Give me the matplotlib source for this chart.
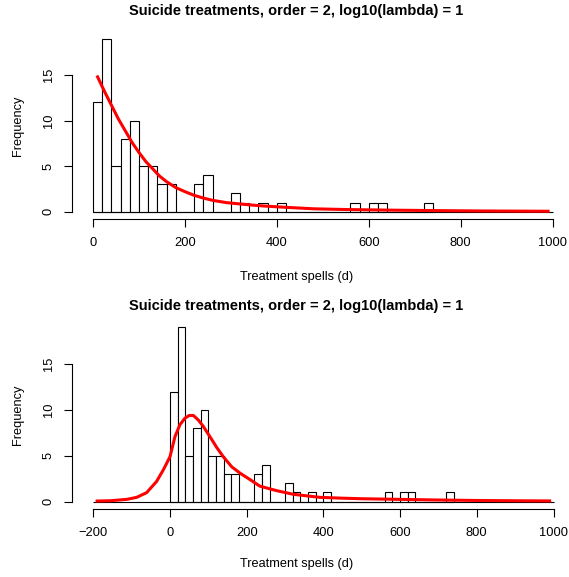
import numpy as np
import matplotlib
matplotlib.use("Agg")
import matplotlib.pyplot as plt

plt.rcParams['font.family'] = ['Liberation Sans', 'DejaVu Sans']

# histogram counts, bins of 20 days starting at 0
bin_width = 20
counts = [12, 19, 5, 8, 10, 5, 5, 3, 3, 0, 0, 3, 4, 0, 0, 2, 1, 0, 1, 0, 1,
          0, 0, 0, 0, 0, 0, 0, 1, 0, 1, 1, 0, 0, 0, 0, 1]
bin_left = np.arange(len(counts)) * bin_width

# smoothed fit, first panel
fit1_x = [10, 25, 40, 55, 70, 85, 100, 115, 130, 145, 160, 180, 200, 220, 240,
          260, 290, 330, 370, 420, 480, 550, 650, 750, 850, 990]
fit1_y = [14.8, 13.2, 11.7, 10.2, 8.9, 7.6, 6.5, 5.5, 4.7, 3.9, 3.3, 2.65, 2.2,
          1.8, 1.5, 1.25, 1.0, 0.8, 0.63, 0.48, 0.32, 0.24, 0.17, 0.12, 0.08, 0.05]

# smoothed fit, second panel
fit2_x = [-190, -156, -113, -87, -61, -35, -17, 0, 13, 26, 39, 50, 61, 74, 87,
          104, 122, 139, 161, 183, 209, 234, 278, 322, 391, 450, 500, 600, 700,
          800, 900, 990]
fit2_y = [0.07, 0.1, 0.25, 0.47, 0.98, 2.2, 3.5, 4.9, 7.1, 8.4, 9.1, 9.4, 9.4,
          8.9, 8.2, 7.1, 5.9, 4.9, 3.8, 3.1, 2.4, 1.7, 1.2, 0.8, 0.47, 0.38, 0.32,
          0.25, 0.18, 0.13, 0.1, 0.08]

title = "Suicide treatments, order = 2, log10(lambda) = 1"
xlab = "Treatment spells (d)"
ylab = "Frequency"

W, H = 569, 577
fig = plt.figure(figsize=(W / 100, H / 100), dpi=100)


def px(x, y):
    return x / W, 1 - y / H


def panel(top, bottom, xlim, xticks, fx, fy, title_y, xlab_y):
    ax = fig.add_axes([72 / W, 1 - bottom / H, (W - 72) / W, (bottom - top) / H])
    ax.bar(bin_left, counts, width=bin_width, align='edge', facecolor='white',
           edgecolor='black', linewidth=0.8, zorder=2)
    ax.hlines(0, xticks[0], xticks[-1], color='black', linewidth=0.8, zorder=2)
    ax.plot(fx, fy, color='red', linewidth=2.2, zorder=3)
    ax.set_xlim(*xlim)
    ax.set_ylim(-0.8, 19.76)
    for s in ['top', 'right']:
        ax.spines[s].set_visible(False)
    ax.spines['left'].set_bounds(0, 15)
    ax.spines['bottom'].set_bounds(xticks[0], xticks[-1])
    for s in ['left', 'bottom']:
        ax.spines[s].set_linewidth(0.8)
    ax.set_xticks(xticks)
    ax.set_yticks([0, 5, 10, 15])
    ax.tick_params(direction='out', length=5.5, width=0.8, labelsize=9.3)
    ax.tick_params(axis='x', pad=7.5)
    ax.tick_params(axis='y', pad=7)
    for lab in ax.get_yticklabels():
        lab.set_rotation(90)
        lab.set_va('center')
    fig.text(*px(296.5, title_y), title, fontsize=10.5, fontweight='bold',
             ha='center', va='center')
    fig.text(*px(296.5, xlab_y), xlab, fontsize=9.2, ha='center', va='center')
    fig.text(*px(18, (top + bottom) / 2), ylab, fontsize=9.2, rotation=90,
             ha='center', va='center')
    return ax


panel(31.7, 219, (-45.7, 1035.5), [0, 200, 400, 600, 800, 1000],
      fit1_x, fit1_y, 11, 277)
panel(320.5, 509, (-255.5, 1040.4), [-200, 0, 200, 400, 600, 800, 1000],
      fit2_x, fit2_y, 306, 564)

fig.savefig("out.png", dpi=100)
